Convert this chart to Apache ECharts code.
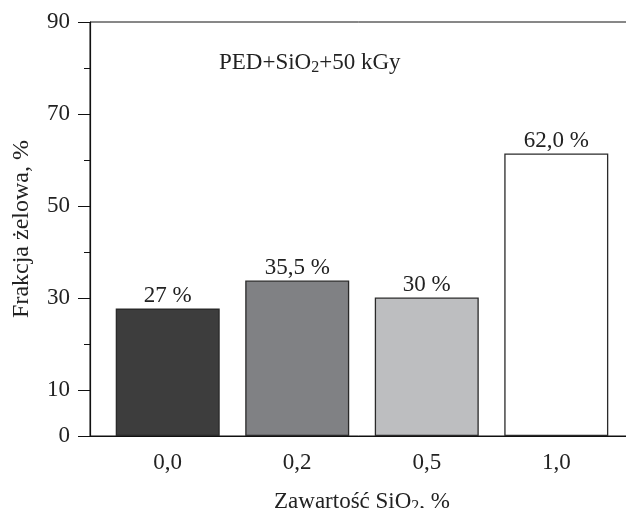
<!DOCTYPE html>
<html>
<head>
<meta charset="utf-8">
<script src="https://cdn.jsdelivr.net/npm/echarts@6/dist/echarts.min.js"></script>
<style>html,body{margin:0;padding:0;background:#fff}#c{width:626px;height:508px}</style>
</head>
<body>
<div id="c"></div>
<script>
const categories = ['0,0', '0,2', '0,5', '1,0'];
const positions = [1, 2, 3, 4];
const values = [27.7, 33.8, 30.1, 61.4];
const barLabels = ['27 %', '35,5 %', '30 %', '62,0 %'];
const barColors = ['#3d3d3d', '#808184', '#bdbec0', '#ffffff'];
const yLabelTicks = [0, 10, 30, 50, 70, 90];
const yMinorTicks = [20, 40, 60, 80];

const FONT = 'Liberation Serif';
const TXT = '#222';

const richSub = (size) => ({
  a: {fontFamily: FONT, fontSize: size, fontWeight: 'normal', color: TXT, lineHeight: size + 4},
  s: {fontFamily: FONT, fontSize: Math.round(size * 0.68), fontWeight: 'normal', color: TXT,
      lineHeight: Math.round(size * 0.68), verticalAlign: 'bottom', padding: [8, 0, 0, 0]}
});

const chart = echarts.init(document.getElementById('c'), null, {renderer: 'canvas'});
chart.setOption({
  animation: false,
  backgroundColor: '#fff',
  title: {
    text: '{a|PED+SiO}{s|2}{a|+50 kGy}',
    left: 214, top: 44,
    textStyle: {fontFamily: FONT, fontWeight: 'normal', rich: richSub(23)}
  },
  grid: {left: 90, top: 22, width: 544, height: 414, containLabel: false, outerBoundsMode: 'none',
         show: true, borderColor: '#111', borderWidth: 1, backgroundColor: 'transparent'},
  xAxis: {
    type: 'value', min: 0.4, max: 4.6,
    splitLine: {show: false},
    axisLine: {show: true, lineStyle: {color: '#111', width: 1.2}},
    axisTick: {show: false},
    axisLabel: {
      customValues: positions,
      margin: 15,
      fontFamily: FONT, fontSize: 23, color: TXT,
      formatter: v => categories[positions.indexOf(v)] || ''
    },
    name: '{a|Zawartość SiO}{s|2}{a|, %}',
    nameLocation: 'middle',
    nameGap: 52,
    nameTextStyle: {rich: richSub(23)}
  },
  yAxis: [{
    type: 'value', min: 0, max: 90, interval: 10,
    splitLine: {show: false},
    axisLine: {show: true, lineStyle: {color: '#111', width: 1.2}},
    axisTick: {show: true, customValues: yLabelTicks, length: 12, lineStyle: {color: '#111'}},
    axisLabel: {customValues: yLabelTicks, margin: 20, fontFamily: FONT, fontSize: 23, color: TXT},
    name: 'Frakcja żelowa, %',
    nameLocation: 'middle',
    nameGap: 56,
    nameTextStyle: {fontFamily: FONT, fontSize: 24, color: TXT}
  }, {
    type: 'value', min: 0, max: 90, interval: 10, position: 'left',
    splitLine: {show: false},
    axisLine: {show: false},
    axisTick: {show: true, customValues: yMinorTicks, length: 6, lineStyle: {color: '#111'}},
    axisLabel: {show: false}
  }],
  series: [{
    type: 'bar',
    barWidth: 104,
    data: positions.map((p, i) => ({
      value: [p, values[i]],
      itemStyle: {color: barColors[i], borderColor: '#2a2a2a', borderWidth: 1.3},
      label: {formatter: barLabels[i]}
    })),
    label: {show: true, position: 'top', distance: 1, fontFamily: FONT, fontSize: 23, color: TXT}
  }]
});
</script>
</body>
</html>
